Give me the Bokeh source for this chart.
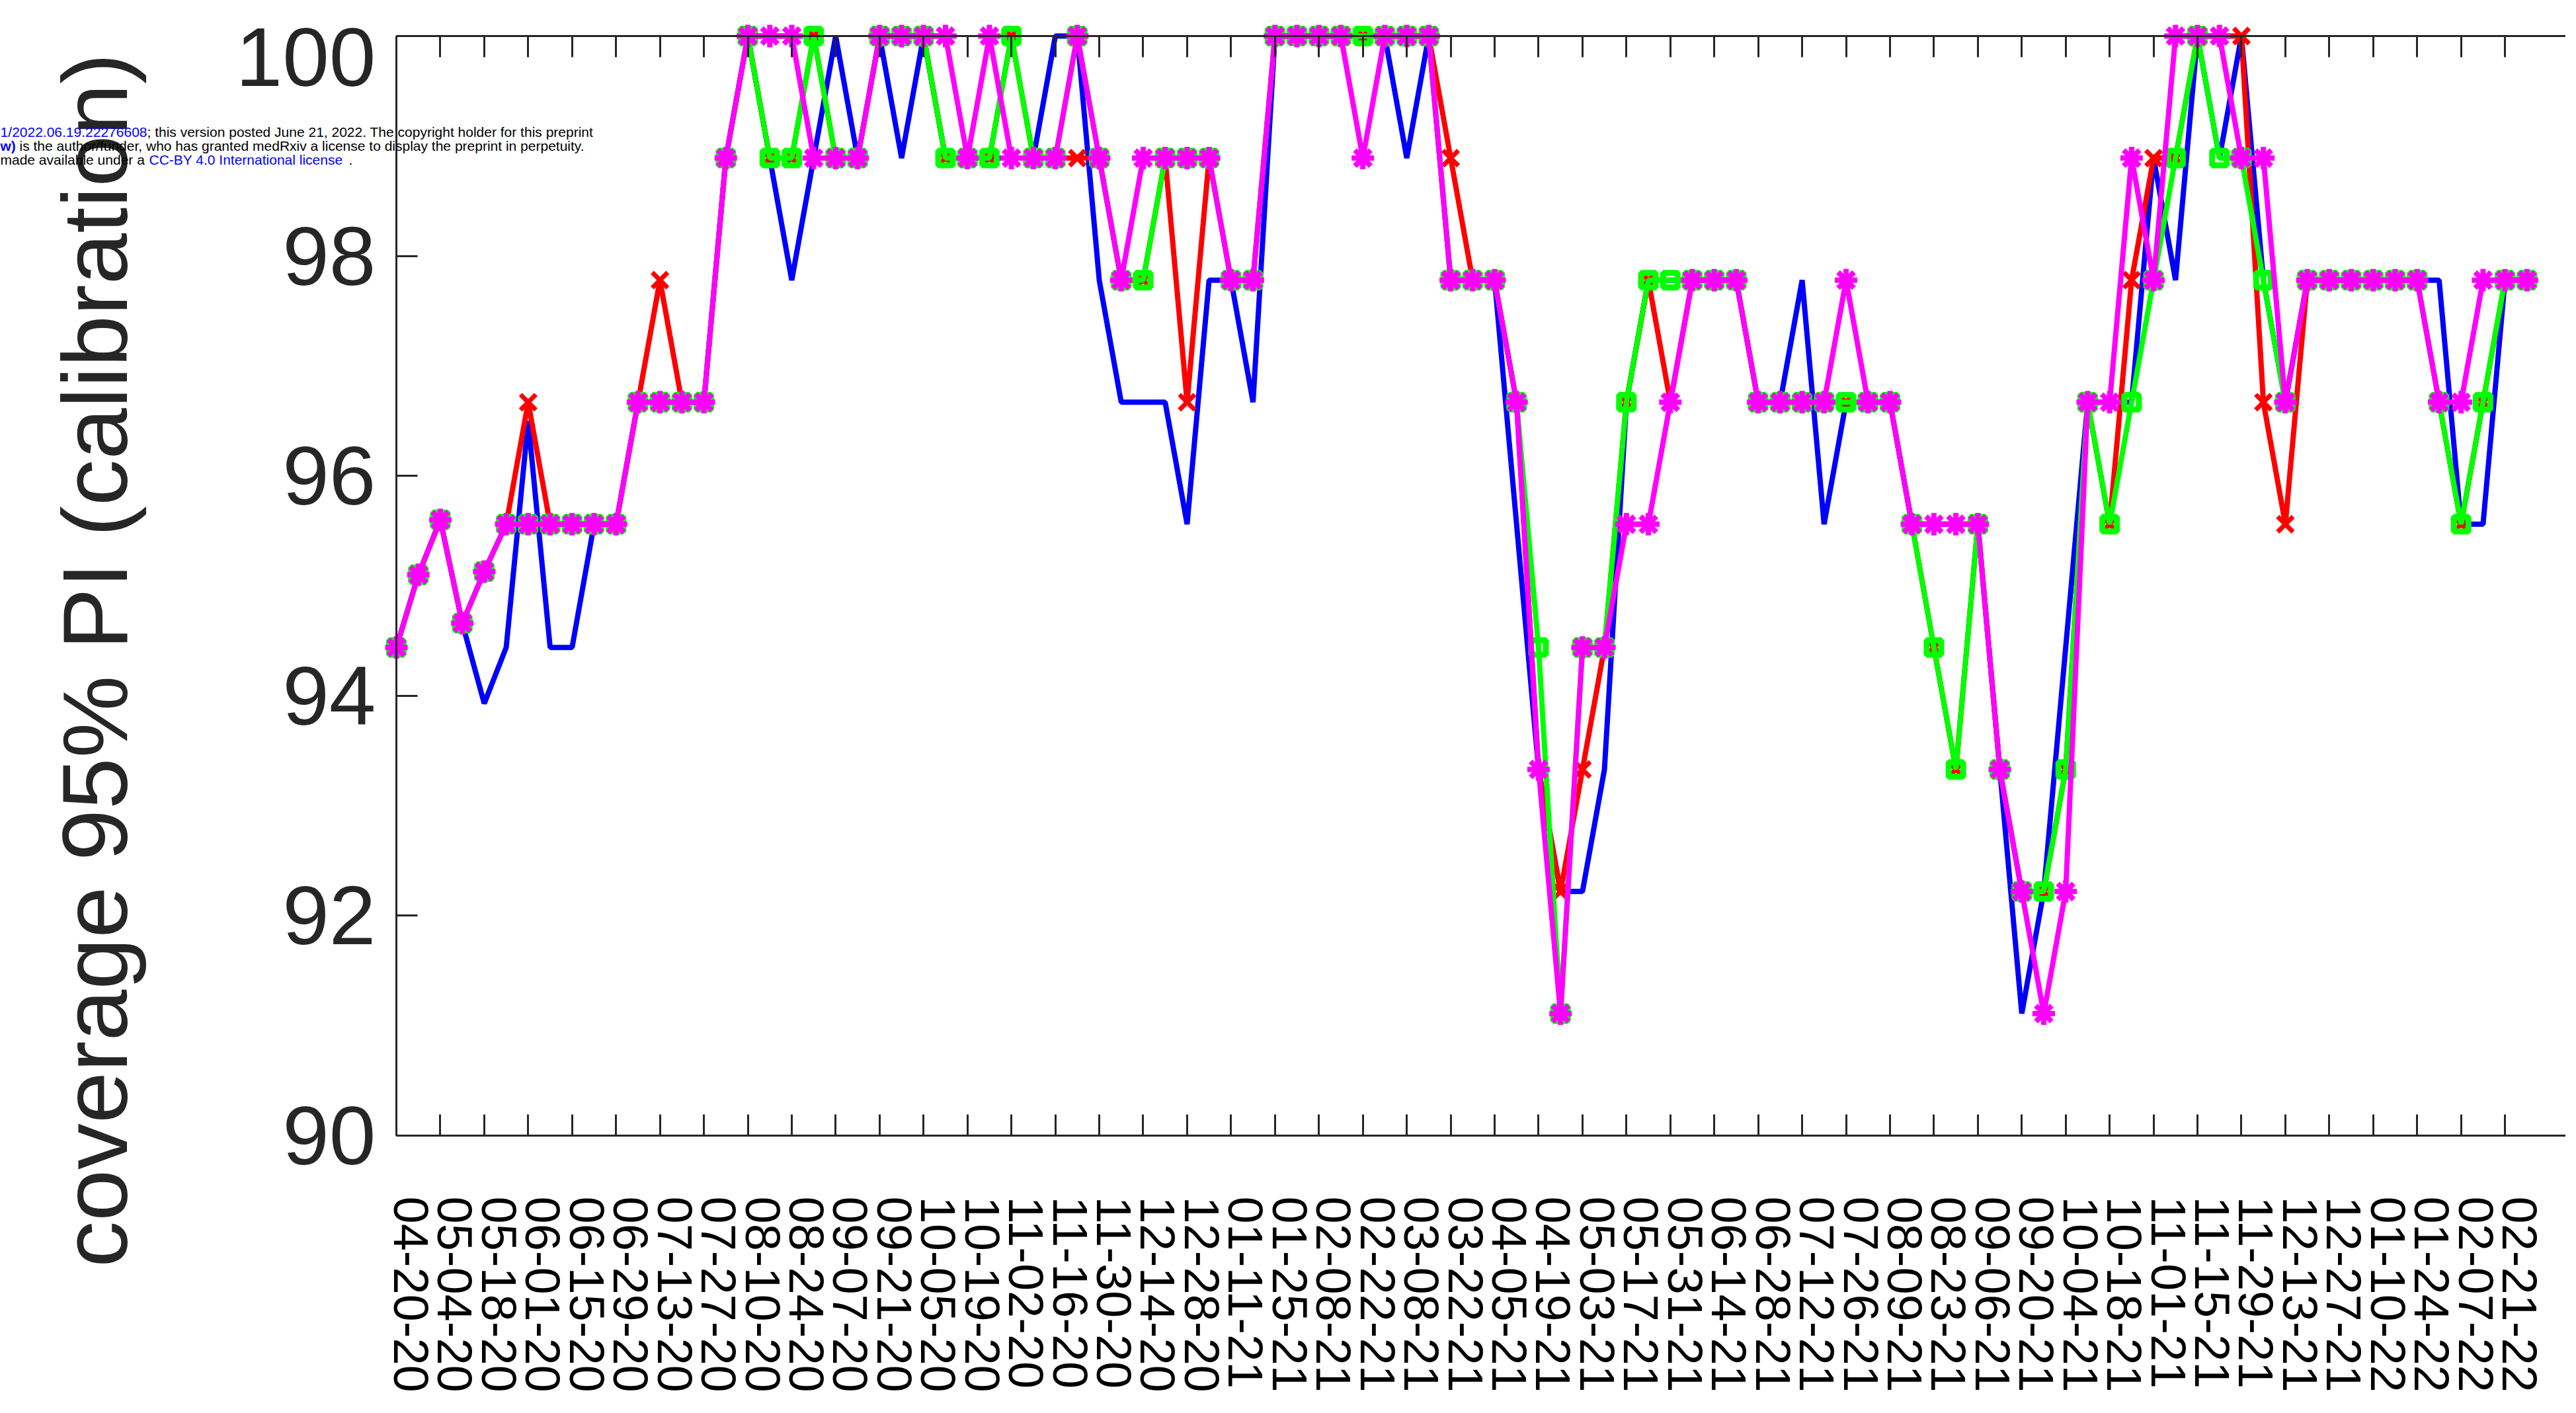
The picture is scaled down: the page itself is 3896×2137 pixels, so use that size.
from math import pi
from bokeh.plotting import figure
from bokeh.models import (ColumnDataSource, Range1d, LinearAxis, FixedTicker,
                          Label, CustomJSTickFormatter)
from bokeh.embed import file_html
from bokeh.resources import INLINE

# ---------------- data (weekly, 04-20-20 ... 02-28-22) ----------------
blue = [94.44, 95.1, 95.6, 94.66, 93.93, 94.44, 96.5, 94.44, 94.44, 95.56,
        95.56, 96.67, 96.67, 96.67, 96.67, 98.89, 100, 98.89, 97.78, 98.89,
        100, 98.89, 100, 98.89, 100, 98.89, 98.89, 98.89, 98.89, 98.89,
        100, 100, 97.78, 96.67, 96.67, 96.67, 95.56, 97.78, 97.78, 96.67,
        100, 100, 100, 100, 100, 100, 98.89, 100, 97.78, 97.78,
        97.78, 95.56, 93.33, 92.22, 92.22, 93.33, 96.67, 97.78, 97.78, 97.78,
        97.78, 97.78, 96.67, 96.67, 97.78, 95.56, 96.67, 96.67, 96.67, 95.56,
        95.56, 95.56, 95.56, 93.33, 91.11, 92.22, 94.44, 96.67, 96.67, 96.67,
        98.89, 97.78, 100, 98.89, 100, 97.78, 96.67, 97.78, 97.78, 97.78,
        97.78, 97.78, 97.78, 97.78, 95.56, 95.56, 97.78, 97.78]
red = [94.44, 95.1, 95.6, 94.66, 95.13, 95.56, 96.67, 95.56, 95.56, 95.56,
       95.56, 96.67, 97.78, 96.67, 96.67, 98.89, 100, 98.89, 98.89, 100,
       98.89, 98.89, 100, 100, 100, 98.89, 98.89, 98.89, 100, 98.89,
       98.89, 98.89, 98.89, 97.78, 97.78, 98.89, 96.67, 98.89, 97.78, 97.78,
       100, 100, 100, 100, 100, 100, 100, 100, 98.89, 97.78,
       97.78, 96.67, 93.33, 92.22, 93.33, 94.44, 96.67, 97.78, 96.67, 97.78,
       97.78, 97.78, 96.67, 96.67, 96.67, 96.67, 96.67, 96.67, 96.67, 95.56,
       94.44, 93.33, 95.56, 93.33, 92.22, 92.22, 93.33, 96.67, 95.56, 97.78,
       98.89, 98.89, 100, 100, 100, 96.67, 95.56, 97.78, 97.78, 97.78,
       97.78, 97.78, 97.78, 96.67, 95.56, 96.67, 97.78, 97.78]
green = [94.44, 95.1, 95.6, 94.66, 95.13, 95.56, 95.56, 95.56, 95.56, 95.56,
         95.56, 96.67, 96.67, 96.67, 96.67, 98.89, 100, 98.89, 98.89, 100,
         98.89, 98.89, 100, 100, 100, 98.89, 98.89, 98.89, 100, 98.89,
         98.89, 100, 98.89, 97.78, 97.78, 98.89, 98.89, 98.89, 97.78, 97.78,
         100, 100, 100, 100, 100, 100, 100, 100, 97.78, 97.78,
         97.78, 96.67, 94.44, 91.11, 94.44, 94.44, 96.67, 97.78, 97.78, 97.78,
         97.78, 97.78, 96.67, 96.67, 96.67, 96.67, 96.67, 96.67, 96.67, 95.56,
         94.44, 93.33, 95.56, 93.33, 92.22, 92.22, 93.33, 96.67, 95.56, 96.67,
         97.78, 98.89, 100, 98.89, 98.89, 97.78, 96.67, 97.78, 97.78, 97.78,
         97.78, 97.78, 97.78, 96.67, 95.56, 96.67, 97.78, 97.78]
magenta = [94.44, 95.1, 95.6, 94.66, 95.13, 95.56, 95.56, 95.56, 95.56, 95.56,
           95.56, 96.67, 96.67, 96.67, 96.67, 98.89, 100, 100, 100, 98.89,
           98.89, 98.89, 100, 100, 100, 100, 98.89, 100, 98.89, 98.89,
           98.89, 100, 98.89, 97.78, 98.89, 98.89, 98.89, 98.89, 97.78, 97.78,
           100, 100, 100, 100, 98.89, 100, 100, 100, 97.78, 97.78,
           97.78, 96.67, 93.33, 91.11, 94.44, 94.44, 95.56, 95.56, 96.67, 97.78,
           97.78, 97.78, 96.67, 96.67, 96.67, 96.67, 97.78, 96.67, 96.67, 95.56,
           95.56, 95.56, 95.56, 93.33, 92.22, 91.11, 92.22, 96.67, 96.67, 98.89,
           97.78, 100, 100, 100, 98.89, 98.89, 96.67, 97.78, 97.78, 97.78,
           97.78, 97.78, 97.78, 96.67, 96.67, 97.78, 97.78, 97.78]

tick_labels = ["04-20-20", "05-04-20", "05-18-20", "06-01-20", "06-15-20", "06-29-20",
               "07-13-20", "07-27-20", "08-10-20", "08-24-20", "09-07-20", "09-21-20",
               "10-05-20", "10-19-20", "11-02-20", "11-16-20", "11-30-20", "12-14-20",
               "12-28-20", "01-11-21", "01-25-21", "02-08-21", "02-22-21", "03-08-21",
               "03-22-21", "04-05-21", "04-19-21", "05-03-21", "05-17-21", "05-31-21",
               "06-14-21", "06-28-21", "07-12-21", "07-26-21", "08-09-21", "08-23-21",
               "09-06-21", "09-20-21", "10-04-21", "10-18-21", "11-01-21", "11-15-21",
               "11-29-21", "12-13-21", "12-27-21", "01-10-22", "01-24-22", "02-07-22",
               "02-21-22"]
y_ticks = [90, 92, 94, 96, 98, 100]

week = list(range(len(magenta)))
tick_pos = [2 * k for k in range(len(tick_labels))]

src = ColumnDataSource(dict(week=week, blue=blue, red=red, green=green, magenta=magenta))

FONT = "Liberation Sans"
AX = "#262626"

# Frame covers the whole canvas; axes are drawn at fixed data locations.
W, H = 3880, 2121
X0, PXW = 599.0, 33.22        # canvas x of week 0, pixels per week
Y100, PXU = 54.0, 166.3       # canvas y of 100 %, pixels per %
xs, xe = -X0 / PXW, (W - X0) / PXW
ye = 100 + Y100 / PXU
ys = 100 - (H - Y100) / PXU

p = figure(width=W, height=H, output_backend="svg", toolbar_location=None,
           x_range=Range1d(xs, xe), y_range=Range1d(ys, ye),
           x_axis_location=None, y_axis_location=None,
           min_border_left=0, min_border_right=0, min_border_top=0,
           min_border_bottom=0)
p.outline_line_color = None
p.background_fill_color = "white"
p.border_fill_color = "white"
p.grid.visible = False


def style_axis(ax):
    ax.major_tick_in = 32
    ax.major_tick_out = 0
    ax.minor_tick_line_color = None
    ax.axis_line_width = 3
    ax.major_tick_line_width = 3
    ax.axis_line_color = AX
    ax.major_tick_line_color = AX


BLANK = CustomJSTickFormatter(code="return ''")

# left axis: line + ticks
yax = LinearAxis(ticker=FixedTicker(ticks=y_ticks), fixed_location=0, bounds=(90, 100),
                 formatter=BLANK)
style_axis(yax)
p.add_layout(yax, "left")

# left tick labels (the top one is placed separately, nudged down to stay on the canvas)
YL_FS, YL_STAND = "127px", 31
ylab = LinearAxis(ticker=FixedTicker(ticks=y_ticks[:-1]), fixed_location=0)
ylab.axis_line_color = None
ylab.major_tick_line_color = None
ylab.minor_tick_line_color = None
ylab.major_tick_in = 0
ylab.major_tick_out = 0
ylab.major_label_text_font = FONT
ylab.major_label_text_font_size = YL_FS
ylab.major_label_text_color = AX
ylab.major_label_standoff = YL_STAND
p.add_layout(ylab, "left")
p.add_layout(Label(x=X0 - YL_STAND, y=H - 86, x_units="screen", y_units="screen",
                   text=str(y_ticks[-1]), text_align="right", text_baseline="alphabetic",
                   text_font=FONT, text_font_size=YL_FS, text_color=AX))

# bottom axis: line + ticks
xax = LinearAxis(ticker=FixedTicker(ticks=tick_pos), fixed_location=90, bounds=(0, xe),
                 formatter=BLANK)
style_axis(xax)
p.add_layout(xax, "below")

# bottom tick labels (MATLAB places the rotated labels slightly right of the tick)
LAB_SHIFT = 22 / PXW
lab_pos = [t + LAB_SHIFT for t in tick_pos]
xlab = LinearAxis(ticker=FixedTicker(ticks=lab_pos), fixed_location=90)
xlab.major_label_overrides = {t: lab for t, lab in zip(lab_pos, tick_labels)}
xlab.major_label_orientation = "vertical"
xlab.axis_line_color = None
xlab.major_tick_line_color = None
xlab.minor_tick_line_color = None
xlab.major_tick_in = 0
xlab.major_tick_out = 0
xlab.major_label_text_font = FONT
xlab.major_label_text_font_size = "74px"
xlab.major_label_text_color = "black"
xlab.major_label_standoff = 92
p.add_layout(xlab, "below")

top = LinearAxis(ticker=FixedTicker(ticks=tick_pos), fixed_location=100, bounds=(0, xe),
                 formatter=BLANK)
style_axis(top)
p.add_layout(top, "above")

# series (drawn in MATLAB order: blue, red, green, magenta)
LW = 8
p.line("week", "blue", source=src, line_color="#0000FF", line_width=LW)
p.line("week", "red", source=src, line_color="#FF0000", line_width=LW)
p.scatter("week", "red", source=src, marker="x", size=33, line_color="#FF0000",
          line_width=7)
p.line("week", "green", source=src, line_color="#00FF00", line_width=LW)
p.scatter("week", "green", source=src, marker="square", size=22, line_color="#00FF00",
          fill_color=None, line_width=9)
p.line("week", "magenta", source=src, line_color="#FF00FF", line_width=LW)
p.scatter("week", "magenta", source=src, marker="asterisk", size=34, line_color="#FF00FF",
          line_width=8)

# y axis title (screen units: from canvas left / bottom)
p.add_layout(Label(x=143, y=H - 998, x_units="screen", y_units="screen",
                   text="coverage 95% PI (calibration)", angle=pi / 2,
                   text_align="center", text_baseline="middle",
                   text_font=FONT, text_font_size="140px", text_color=AX))

# medRxiv header fragments
HF = "21px"


def hdr(cx, cy, txt, color="black", align="left", style="normal"):
    p.add_layout(Label(x=cx, y=H - cy, x_units="screen", y_units="screen",
                       text=txt, text_align=align, text_baseline="alphabetic",
                       text_font=FONT, text_font_size=HF, text_color=color,
                       text_font_style=style))


hdr(222, 199, "1/2022.06.19.22276608", color="#0000FF", align="right")
hdr(222, 199, "; this version posted June 21, 2022. The copyright holder for this preprint")
hdr(0, 220, "w)", color="#0000FF", style="bold")
hdr(29, 220, "is the author/funder, who has granted medRxiv a license to display the preprint in perpetuity.")
hdr(0, 241, "made available under a")
hdr(225, 241, "CC-BY 4.0 International license", color="#0000FF")
hdr(527, 241, ".")

open("out.html", "w").write(file_html(p, INLINE))
